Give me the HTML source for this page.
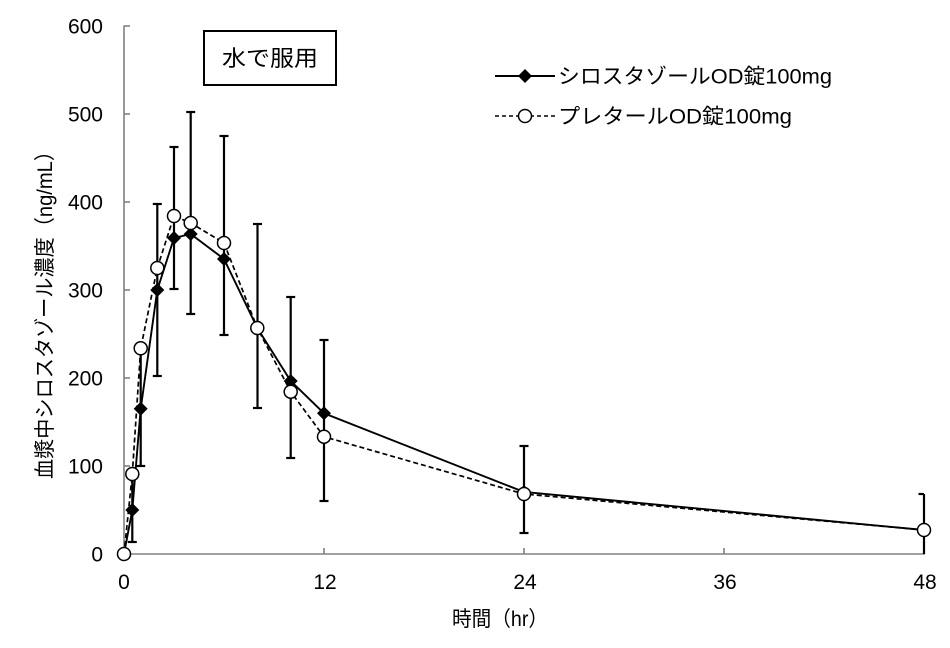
<!DOCTYPE html>
<html>
<head>
<meta charset="utf-8">
<style>
html,body{margin:0;padding:0;background:#fff;}
svg{display:block;}
text{font-family:"Liberation Sans","Noto Sans CJK JP",sans-serif;fill:#000;}
</style>
</head>
<body>
<svg width="950" height="648" viewBox="0 0 950 648" xmlns="http://www.w3.org/2000/svg">
  <rect width="950" height="648" fill="#fff"/>

  <!-- axes -->
  <g stroke="#808080" stroke-width="1.6" fill="none">
    <line x1="124" y1="25.5" x2="124" y2="554"/>
    <line x1="124" y1="554" x2="925" y2="554"/>
    <line x1="124" y1="26" x2="130" y2="26"/>
    <line x1="124" y1="114" x2="130" y2="114"/>
    <line x1="124" y1="202" x2="130" y2="202"/>
    <line x1="124" y1="290" x2="130" y2="290"/>
    <line x1="124" y1="378" x2="130" y2="378"/>
    <line x1="124" y1="466" x2="130" y2="466"/>
    <line x1="324" y1="554" x2="324" y2="548"/>
    <line x1="524" y1="554" x2="524" y2="548"/>
    <line x1="724" y1="554" x2="724" y2="548"/>
    <line x1="924" y1="554" x2="924" y2="548"/>
  </g>

  <!-- y tick labels -->
  <g font-size="21" text-anchor="end">
    <text x="103" y="33.5">600</text>
    <text x="103" y="121.5">500</text>
    <text x="103" y="209.5">400</text>
    <text x="103" y="297.5">300</text>
    <text x="103" y="385.5">200</text>
    <text x="103" y="473.5">100</text>
    <text x="103" y="561.5">0</text>
  </g>
  <!-- x tick labels -->
  <g font-size="21" text-anchor="middle">
    <text x="124" y="589">0</text>
    <text x="325" y="589">12</text>
    <text x="525" y="589">24</text>
    <text x="725" y="589">36</text>
    <text x="925" y="589">48</text>
  </g>

  <!-- axis titles -->
  <text x="452" y="626" font-size="21" textLength="96" lengthAdjust="spacingAndGlyphs">時間（hr）</text>
  <text transform="translate(52,310) rotate(-90)" x="0" y="0" font-size="21" text-anchor="middle" textLength="338" lengthAdjust="spacingAndGlyphs">血漿中シロスタゾール濃度（ng/mL）</text>

  <!-- title box -->
  <rect x="204" y="31" width="132" height="54" fill="#fff" stroke="#000" stroke-width="2"/>
  <text x="222" y="66" font-size="22" textLength="96" lengthAdjust="spacingAndGlyphs">水で服用</text>

  <!-- error bars -->
  <g stroke="#000" stroke-width="2.2" fill="none">
    <line x1="132.3" y1="474" x2="132.3" y2="542"/>
    <line x1="127.8" y1="542" x2="136.8" y2="542"/>

    <line x1="140.7" y1="348" x2="140.7" y2="466"/>
    <line x1="136.2" y1="466" x2="145.2" y2="466"/>

    <line x1="157.3" y1="204" x2="157.3" y2="376"/>
    <line x1="152.8" y1="204" x2="161.8" y2="204"/>
    <line x1="152.8" y1="376" x2="161.8" y2="376"/>

    <line x1="174" y1="147" x2="174" y2="289"/>
    <line x1="169.5" y1="147" x2="178.5" y2="147"/>
    <line x1="169.5" y1="289" x2="178.5" y2="289"/>

    <line x1="190.7" y1="112" x2="190.7" y2="314"/>
    <line x1="186.2" y1="112" x2="195.2" y2="112"/>
    <line x1="186.2" y1="314" x2="195.2" y2="314"/>

    <line x1="224" y1="136" x2="224" y2="335"/>
    <line x1="219.5" y1="136" x2="228.5" y2="136"/>
    <line x1="219.5" y1="335" x2="228.5" y2="335"/>

    <line x1="257.5" y1="224" x2="257.5" y2="408"/>
    <line x1="253" y1="224" x2="262" y2="224"/>
    <line x1="253" y1="408" x2="262" y2="408"/>

    <line x1="290.7" y1="297" x2="290.7" y2="458"/>
    <line x1="286.2" y1="297" x2="295.2" y2="297"/>
    <line x1="286.2" y1="458" x2="295.2" y2="458"/>

    <line x1="324" y1="340" x2="324" y2="501"/>
    <line x1="319.5" y1="340" x2="328.5" y2="340"/>
    <line x1="319.5" y1="501" x2="328.5" y2="501"/>

    <line x1="524" y1="446" x2="524" y2="533"/>
    <line x1="519.5" y1="446" x2="528.5" y2="446"/>
    <line x1="519.5" y1="533" x2="528.5" y2="533"/>

    <line x1="924" y1="494" x2="924" y2="554"/>
    <line x1="918.5" y1="494" x2="924" y2="494"/>
  </g>

  <!-- solid series -->
  <polyline fill="none" stroke="#000" stroke-width="1.9"
    points="124,554 132.3,510 140.7,408.7 157.3,290 174,238 190.7,234 224,259 257.3,328 290.7,381 324,413.3 524,492 924,530"/>
  <!-- dashed series -->
  <polyline fill="none" stroke="#000" stroke-width="1.7" stroke-dasharray="5 3"
    points="124,554 132.3,474 140.7,348.3 157.3,268 174,216 190.7,223 224,243 257.3,328 290.7,391.7 324,436.7 524,494 924,530"/>

  <!-- diamonds -->
  <g fill="#000">
    <polygon points="132.3,503 139.3,510 132.3,517 125.3,510"/>
    <polygon points="140.7,401.7 147.7,408.7 140.7,415.7 133.7,408.7"/>
    <polygon points="157.3,283 164.3,290 157.3,297 150.3,290"/>
    <polygon points="174,231 181,238 174,245 167,238"/>
    <polygon points="190.7,227 197.7,234 190.7,241 183.7,234"/>
    <polygon points="224,252 231,259 224,266 217,259"/>
    <polygon points="257.3,321 264.3,328 257.3,335 250.3,328"/>
    <polygon points="290.7,374 297.7,381 290.7,388 283.7,381"/>
    <polygon points="324,406.3 331,413.3 324,420.3 317,413.3"/>
    <polygon points="524,485 531,492 524,499 517,492"/>
    <polygon points="924,523 931,530 924,537 917,530"/>
  </g>

  <!-- circles -->
  <g fill="#fff" stroke="#000" stroke-width="1.5">
    <circle cx="124" cy="554" r="6.5"/>
    <circle cx="132.3" cy="474" r="6.5"/>
    <circle cx="140.7" cy="348.3" r="6.5"/>
    <circle cx="157.3" cy="268" r="6.5"/>
    <circle cx="174" cy="216" r="6.5"/>
    <circle cx="190.7" cy="223" r="6.5"/>
    <circle cx="224" cy="243" r="6.5"/>
    <circle cx="257.3" cy="328" r="6.5"/>
    <circle cx="290.7" cy="391.7" r="6.5"/>
    <circle cx="324" cy="436.7" r="6.5"/>
    <circle cx="524" cy="494" r="6.5"/>
    <circle cx="924" cy="530" r="6.5"/>
  </g>

  <!-- legend -->
  <line x1="495" y1="76" x2="555" y2="76" stroke="#000" stroke-width="1.9"/>
  <polygon points="525,69 532,76 525,83 518,76" fill="#000"/>
  <text x="558" y="83.5" font-size="21" textLength="274" lengthAdjust="spacingAndGlyphs">シロスタゾールOD錠100mg</text>

  <line x1="495" y1="116" x2="555" y2="116" stroke="#000" stroke-width="1.6" stroke-dasharray="4 3"/>
  <circle cx="525" cy="116" r="6.5" fill="#fff" stroke="#000" stroke-width="1.5"/>
  <text x="558" y="123.5" font-size="21" textLength="234" lengthAdjust="spacingAndGlyphs">プレタールOD錠100mg</text>
</svg>
</body>
</html>
